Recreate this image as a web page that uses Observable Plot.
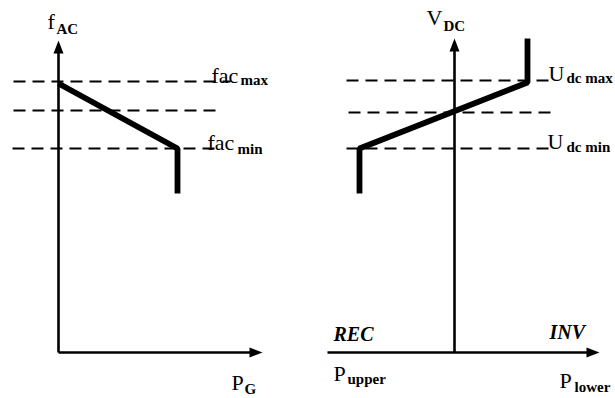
<!DOCTYPE html>
<html>
<head>
<meta charset="utf-8">
<script src="https://cdn.jsdelivr.net/npm/d3@7"></script>
<script src="https://cdn.jsdelivr.net/npm/@observablehq/plot@0.6"></script>
<style>
  html, body { margin: 0; padding: 0; background: #fff; }
  #chart svg { display: block; }
</style>
</head>
<body>
<div id="chart"></div>
<script>
// Schematic frame: x to the right, y upward, origin on the power axes.

// Axes (start / arrow tip)
const axisLines = [
  { panel: "f-P", x1: 58,  y1: 0, x2: 58,  y2: 312 },  // f_AC axis
  { panel: "f-P", x1: 58,  y1: 0, x2: 262, y2: 0 },    // P_G axis
  { panel: "V-P", x1: 454, y1: 0, x2: 454, y2: 314 },  // V_DC axis
  { panel: "V-P", x1: 327, y1: 0, x2: 599, y2: 0 }     // P axis (upper -> lower)
];

// Reference levels (dashed)
const levelNames = ["fac max", "fac nom", "fac min", "Udc max", "Udc nom", "Udc min"];
const levelY     = [271, 242, 204, 272, 240, 204];
const levelFrom  = [13, 13, 12, 346, 348, 346];
const levelTo    = [230, 222, 218, 552, 557, 552];

// Frequency droop characteristic (left)
const droopP = [58, 177, 177];
const droopF = [269, 204, 159];

// DC voltage characteristic (right)
const vdcP = [359, 359, 527, 527];
const vdcV = [159, 204, 270, 314];

// Labels
const mainText = ["f", "V", "fac", "fac", "U", "U", "P", "P", "P"];
const mainX    = [47, 426, 211, 207, 548, 547, 231, 333, 559];
const mainY    = [324, 328, 270, 203, 272, 204, -37, -28, -35];

const subText = ["AC", "DC", "max", "min", "dc max", "dc min", "G", "upper", "lower"];
const subX    = [56, 443, 240, 237, 566, 566, 244, 347, 574];
const subY    = [319, 322, 268, 199, 270, 201, -41, -31, -39];

const modeText = ["REC", "INV"];
const modeX    = [333, 549];
const modeY    = [12, 14];

// ---- build tables ----
const levels = levelNames.map((n, i) => ({ name: n, y: levelY[i], x1: levelFrom[i], x2: levelTo[i] }));
const droop = droopP.map((p, i) => ({ p, v: droopF[i] }));
const vdc = vdcP.map((p, i) => ({ p, v: vdcV[i] }));
const mains = mainText.map((t, i) => ({ t, x: mainX[i], y: mainY[i] }));
const subs = subText.map((t, i) => ({ t, x: subX[i], y: subY[i] }));
const modes = modeText.map((t, i) => ({ t, x: modeX[i], y: modeY[i] }));

const headLen = 12;
const shafts = axisLines.map(a => {
  const dx = a.x2 - a.x1, dy = a.y2 - a.y1, L = Math.hypot(dx, dy);
  return { x1: a.x1, y1: a.y1, x2: a.x2 - dx / L * (headLen - 2), y2: a.y2 - dy / L * (headLen - 2) };
});
const heads = axisLines.map(a => ({ x: a.x2, y: a.y2, rot: a.y2 !== a.y1 ? 0 : 90 }));

const arrowHead = {
  draw(ctx, size) {
    const r = Math.sqrt(size / Math.PI);
    const w = 2 * r, h = 2.6 * r;
    ctx.moveTo(0, 0);
    ctx.lineTo(w / 2, h);
    ctx.lineTo(-w / 2, h);
    ctx.closePath();
  }
};

const font = "Liberation Serif, Times New Roman, serif";

const chart = Plot.plot({
  width: 615,
  height: 398,
  margin: 0,
  x: { domain: [0, 615], axis: null },
  y: { domain: [-46, 352], axis: null },
  style: { fontFamily: font, background: "#fff", color: "#000" },
  marks: [
    Plot.link(levels, {
      x1: "x1", x2: "x2", y1: "y", y2: "y",
      stroke: "#000", strokeWidth: 1.8, strokeDasharray: "12 7"
    }),
    Plot.link(shafts, {
      x1: "x1", y1: "y1", x2: "x2", y2: "y2",
      stroke: "#000", strokeWidth: 2.6
    }),
    Plot.dot(heads, {
      x: "x", y: "y", rotate: "rot", symbol: arrowHead, r: 5,
      fill: "#000", stroke: "none"
    }),
    Plot.line(droop, {
      x: "p", y: "v", stroke: "#000", strokeWidth: 5.8,
      strokeLinejoin: "miter", strokeLinecap: "butt"
    }),
    Plot.line(vdc, {
      x: "p", y: "v", stroke: "#000", strokeWidth: 5.8,
      strokeLinejoin: "miter", strokeLinecap: "butt"
    }),
    Plot.text(mains, {
      x: "x", y: "y", text: "t", textAnchor: "start", lineAnchor: "bottom",
      fontSize: 22, fill: "#000"
    }),
    Plot.text(subs, {
      x: "x", y: "y", text: "t", textAnchor: "start", lineAnchor: "bottom",
      fontSize: 15, fontWeight: "bold", fill: "#000"
    }),
    Plot.text(modes, {
      x: "x", y: "y", text: "t", textAnchor: "start", lineAnchor: "bottom",
      fontSize: 20, fontWeight: "bold", fontStyle: "italic", fill: "#000"
    })
  ]
});

document.getElementById("chart").appendChild(chart);
</script>
</body>
</html>
